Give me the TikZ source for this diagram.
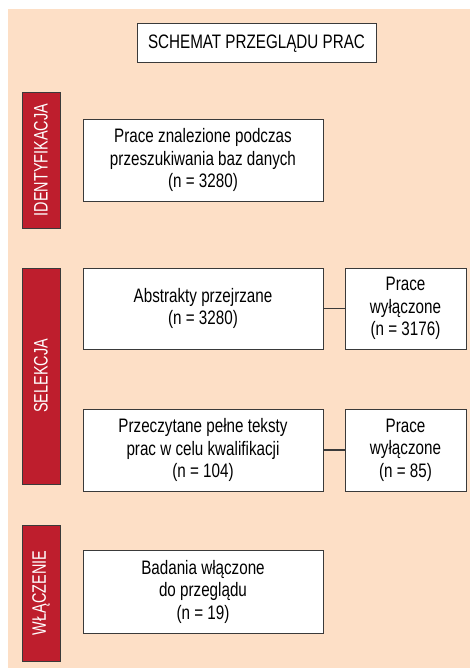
\documentclass[tikz,border=0pt]{standalone}
\usepackage{fontspec}
\setmainfont[FakeStretch=0.78]{Liberation Sans}
\newfontfamily\barfont[FakeStretch=0.74]{Liberation Sans}
\definecolor{peach}{HTML}{FDDFC6}
\definecolor{barred}{HTML}{BE1E2D}
\definecolor{edge}{HTML}{3A3A3A}
\begin{document}
\begin{tikzpicture}[x=1pt,y=-1pt,
  box/.style={draw=edge,line width=1pt,fill=white,align=center,font=\fontsize{19.5}{22.5}\selectfont,inner sep=0pt},
  bar/.style={draw=edge,line width=1pt,fill=barred,inner sep=0pt},
  bartext/.style={rotate=90,text=white,font=\barfont\fontsize{19.5}{22}\selectfont,inner sep=0pt},
  link/.style={draw=edge,line width=1.2pt}]
\useasboundingbox (0,0) rectangle (470,669);
\fill[peach] (8,9) rectangle (470,668);
% title
\node[box,minimum width=239,minimum height=39] (title) at (256.5,43.5) {SCHEMAT PRZEGLĄDU PRAC};
% bars
\node[bar,minimum width=38,minimum height=136] (b1) at (41,160) {};
\node[bartext] (t1) at (b1.center) {IDENTYFIKACJA};
\node[bar,minimum width=38,minimum height=216] (b2) at (41,376) {};
\node[bartext] (t2) at (b2.center) {SELEKCJA};
\node[bar,minimum width=38,minimum height=136] (b3) at (41,593) {};
\node[bartext] (t3) at (b3.center) {WŁĄCZENIE};
% main boxes
\node[box,minimum width=240,minimum height=82] (n1) at (203,160) {Prace znalezione podczas\\przeszukiwania baz danych\\(n = 3280)};
\node[box,minimum width=240,minimum height=81] (n2) at (203,308.5) {Abstrakty przejrzane\\(n = 3280)};
\node[box,minimum width=121,minimum height=81] (e1) at (405.5,308.5) {Prace\\wyłączone\\(n = 3176)};
\node[box,minimum width=240,minimum height=82] (n3) at (203,450) {Przeczytane pełne teksty\\prac w celu kwalifikacji\\(n = 104)};
\node[box,minimum width=121,minimum height=82] (e2) at (405.5,450) {Prace\\wyłączone\\(n = 85)};
\node[box,minimum width=240,minimum height=83] (n4) at (203,591.5) {Badania włączone\\do przeglądu\\(n = 19)};
% connectors
\draw[link] (n2.east) -- (e1.west);
\draw[link] (n3.east) -- (e2.west);
\end{tikzpicture}
\end{document}
